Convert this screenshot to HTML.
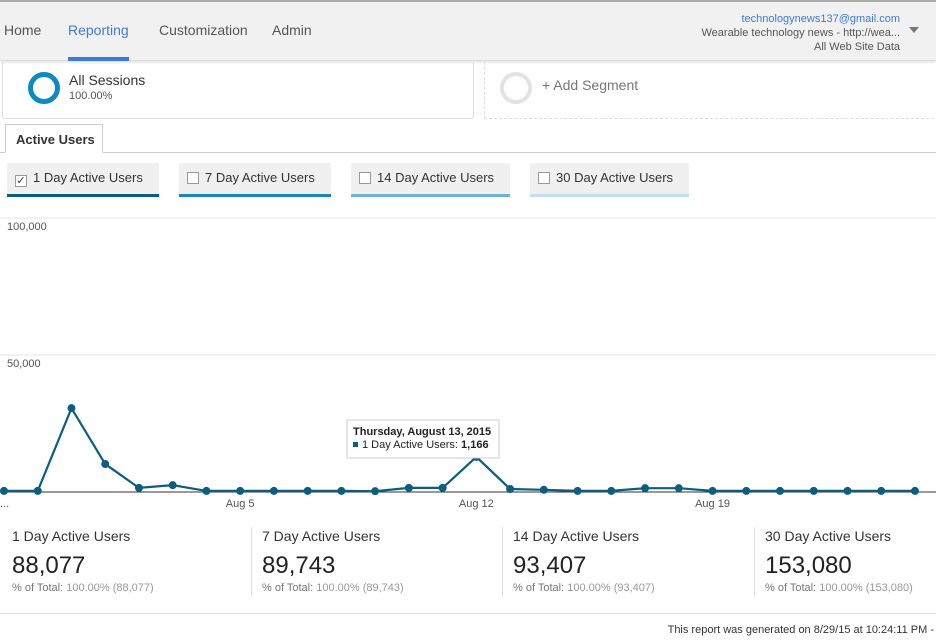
<!DOCTYPE html>
<html><head><meta charset="utf-8"><style>
*{box-sizing:border-box;margin:0;padding:0}
body{width:936px;height:644px;overflow:hidden;background:#fff;font-family:"Liberation Sans",Arial,sans-serif;position:relative;color:#333}
.abs{position:absolute}
#topbar{left:0;top:0;width:936px;height:61px;background:#f1f1f1;border-top:2px solid #aaa;border-bottom:1px solid #ddd;box-shadow:0 1px 3px rgba(0,0,0,.15)}
.nav{top:22px;font-size:14px;color:#555}
.metric-tab{top:163px;height:34px;background:#f0f0f0;font-size:13px;color:#333;padding:7px 0 0 8px}
.cb{display:inline-block;width:12px;height:12px;border:1px solid #999;background:#fff;vertical-align:-2px;margin-right:6px;font-size:11px;line-height:10px;text-align:center}
.sum-label{top:528px;font-size:14px;color:#333}
.sum-val{top:552px;font-size:24px;color:#222}
.sum-pct{top:582px;font-size:11px;color:#777}
.sum-pct span{color:#999}
.sep{top:527px;width:1px;height:70px;background:#e0e0e0}
</style></head><body>
<div id="topbar" class="abs"></div>
<div class="abs nav" style="left:4px">Home</div>
<div class="abs nav" style="left:68px;color:#3e7bd9">Reporting</div>
<div class="abs" style="left:68px;top:57px;width:61px;height:4px;background:#3e7bd9"></div>
<div class="abs nav" style="left:159px">Customization</div>
<div class="abs nav" style="left:272px">Admin</div>
<div class="abs" style="right:36px;top:12px;text-align:right;font-size:11px;line-height:14px;color:#555">
<div style="color:#3e7bd9">technologynews137@gmail.com</div><div>Wearable technology news - http://wea...</div><div>All Web Site Data</div></div>
<div class="abs" style="left:909px;top:27px;width:0;height:0;border-left:5px solid transparent;border-right:5px solid transparent;border-top:6px solid #777"></div>

<div class="abs" style="left:2px;top:62px;width:472px;height:57px;border:1px solid #ddd;border-top:none;border-radius:0 0 3px 3px"></div>
<div class="abs" style="left:28px;top:72px;width:32px;height:32px;border-radius:50%;border:5px solid #0f8ac0"></div>
<div class="abs" style="left:69px;top:72px;font-size:14px">All Sessions</div>
<div class="abs" style="left:69px;top:90px;font-size:11px;color:#555">100.00%</div>
<div class="abs" style="left:484px;top:62px;width:460px;height:57px;border:1px dashed #ddd;border-top:none"></div>
<div class="abs" style="left:500px;top:72px;width:32px;height:32px;border-radius:50%;border:4px solid #e3e3e3"></div>
<div class="abs" style="left:542px;top:77px;font-size:14px;color:#777">+ Add Segment</div>

<div class="abs" style="left:0;top:152px;width:936px;height:1px;background:#ccc"></div>
<div class="abs" style="left:5px;top:124px;width:98px;height:29px;border:1px solid #ccc;border-bottom:1px solid #fff;background:#fff;font-size:13px;font-weight:bold;padding:7px 0 0 10px">Active Users</div>

<div class="abs metric-tab" style="left:7px;width:152px;border-bottom:3px solid #0b5e80"><span class="cb">✓</span>1 Day Active Users</div>
<div class="abs metric-tab" style="left:179px;width:152px;border-bottom:3px solid #1b88b8"><span class="cb"></span>7 Day Active Users</div>
<div class="abs metric-tab" style="left:351px;width:159px;border-bottom:3px solid #6fb3d6"><span class="cb"></span>14 Day Active Users</div>
<div class="abs metric-tab" style="left:530px;width:159px;border-bottom:3px solid #c0def0"><span class="cb"></span>30 Day Active Users</div>

<svg class="abs" style="left:0;top:0" width="936" height="520" id="chart"></svg>

<div class="abs sum-label" style="left:12px">1 Day Active Users</div>
<div class="abs sum-val" style="left:12px">88,077</div>
<div class="abs sum-pct" style="left:12px">% of Total: <span>100.00% (88,077)</span></div>
<div class="abs sep" style="left:251px"></div>
<div class="abs sum-label" style="left:262px">7 Day Active Users</div>
<div class="abs sum-val" style="left:262px">89,743</div>
<div class="abs sum-pct" style="left:262px">% of Total: <span>100.00% (89,743)</span></div>
<div class="abs sep" style="left:502px"></div>
<div class="abs sum-label" style="left:513px">14 Day Active Users</div>
<div class="abs sum-val" style="left:513px">93,407</div>
<div class="abs sum-pct" style="left:513px">% of Total: <span>100.00% (93,407)</span></div>
<div class="abs sep" style="left:754px"></div>
<div class="abs sum-label" style="left:765px">30 Day Active Users</div>
<div class="abs sum-val" style="left:765px">153,080</div>
<div class="abs sum-pct" style="left:765px">% of Total: <span>100.00% (153,080)</span></div>
<div class="abs" style="left:0;top:613px;width:936px;height:1px;background:#ddd"></div>
<div class="abs" style="right:2px;top:624px;font-size:11px;color:#333">This report was generated on 8/29/15 at 10:24:11 PM -</div>

<script>
const dates = ["Jul 29","Jul 30","Jul 31","Aug 1","Aug 2","Aug 3","Aug 4","Aug 5","Aug 6","Aug 7","Aug 8","Aug 9","Aug 10","Aug 11","Aug 12","Aug 13","Aug 14","Aug 15","Aug 16","Aug 17","Aug 18","Aug 19","Aug 20","Aug 21","Aug 22","Aug 23","Aug 24","Aug 25"];
const oneDayUsers = [400,400,30600,10200,1500,2500,400,400,400,400,400,300,1500,1500,12800,1100,800,400,400,1400,1400,400,400,400,400,400,400,400];
const yTicks = [50000,100000];
const yTickLabels = ["50,000","100,000"];
const xTickIdx = [7,14,21];
const xTickLabels = ["Aug 5","Aug 12","Aug 19"];

const NS="http://www.w3.org/2000/svg";
const svg=document.getElementById('chart');
const x0=4, step=33.74, yBase=492, yPerUnit=137/50000;
const X=i=>x0+i*step;
const Y=v=>yBase-v*yPerUnit;
function mk(tag,attrs){const e=document.createElementNS(NS,tag);for(const k in attrs)e.setAttribute(k,attrs[k]);svg.appendChild(e);return e;}

yTicks.forEach((t,i)=>{
  const g=mk('line',{x1:0,x2:936,y1:Y(t),y2:Y(t),stroke:'#e6e6e6'});
  
  
  const l=mk('text',{x:7,y:Y(t)+12,'font-size':11,fill:'#555'});
  l.textContent=yTickLabels[i];
  
  
});
const base=mk('line',{x1:0,x2:936,y1:Y(0),y2:Y(0),stroke:'#333','stroke-width':1});


xTickIdx.forEach((idx,i)=>{
  const t=mk('text',{x:X(idx),y:507,'font-size':11,fill:'#555','text-anchor':'middle'});
  t.textContent=xTickLabels[i];
  
  
});
const dots=mk('text',{x:0,y:507,'font-size':11,fill:'#555'});dots.textContent='...';
const line=mk('polyline',{points:oneDayUsers.map((v,i)=>X(i)+','+Y(v)).join(' '),fill:'none',stroke:'#0b5e80','stroke-width':2.2});


oneDayUsers.forEach((v,i)=>{
  const c=mk('circle',{cx:X(i),cy:Y(v),r:4,fill:'#0b5e80'});
  
  
});
const tg=mk('g',{});


const r=document.createElementNS(NS,'rect');
r.setAttribute('x',347);r.setAttribute('y',420);r.setAttribute('width',152);r.setAttribute('height',38);r.setAttribute('fill','#fff');r.setAttribute('stroke','#ccc');tg.appendChild(r);
const t1=document.createElementNS(NS,'text');t1.setAttribute('x',353);t1.setAttribute('y',435);t1.setAttribute('font-size',11);t1.setAttribute('font-weight','bold');t1.setAttribute('fill','#222');t1.textContent='Thursday, August 13, 2015';tg.appendChild(t1);
const sq=document.createElementNS(NS,'rect');sq.setAttribute('x',353);sq.setAttribute('y',442);sq.setAttribute('width',5);sq.setAttribute('height',5);sq.setAttribute('fill','#0b5e80');tg.appendChild(sq);
const t2=document.createElementNS(NS,'text');t2.setAttribute('x',362);t2.setAttribute('y',448);t2.setAttribute('font-size',11);t2.setAttribute('fill','#222');t2.innerHTML='1 Day Active Users: <tspan font-weight="bold">1,166</tspan>';tg.appendChild(t2);
</script>
</body></html>
